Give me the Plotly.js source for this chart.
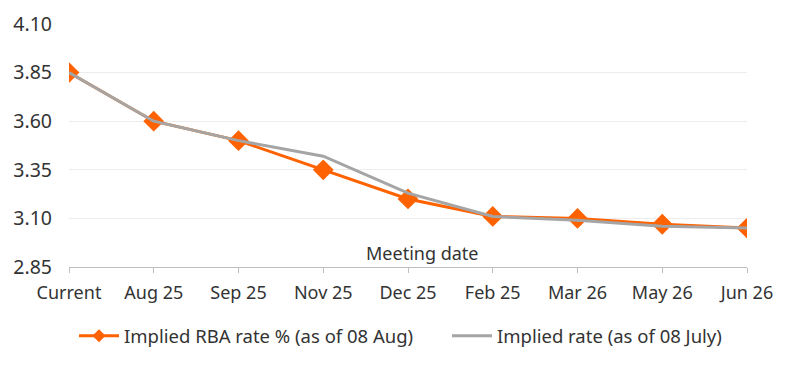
<!DOCTYPE html>
<html>
<head>
<meta charset="utf-8">
<script src="https://cdn.plot.ly/plotly-3.0.1.min.js"></script>
<style>html,body{margin:0;padding:0;background:#fff;}#chart{width:800px;height:369px;}</style>
</head>
<body>
<div id="chart"></div>
<script>
const categories = ["Current", "Aug 25", "Sep 25", "Nov 25", "Dec 25", "Feb 25", "Mar 26", "May 26", "Jun 26"];
const impliedAug = [3.85, 3.60, 3.50, 3.35, 3.20, 3.11, 3.10, 3.07, 3.05];
const impliedJuly = [3.85, 3.60, 3.50, 3.42, 3.23, 3.11, 3.09, 3.06, 3.05];
const yTicks = [2.85, 3.10, 3.35, 3.60, 3.85, 4.10];
const seriesNames = ["Implied RBA rate % (as of 08 Aug)", "Implied rate (as of 08 July)"];

const fontFam = "Noto Sans, Open Sans, sans-serif";
const orange = "#FF6200", grey = "#A5A5A5";
const traces = [
  {
    x: categories, y: impliedAug, name: seriesNames[0], type: "scatter", mode: "lines+markers",
    line: {color: orange, width: 3},
    marker: {symbol: "diamond", size: 16, color: orange}, showlegend: false
  },
  {
    x: categories, y: impliedJuly, name: seriesNames[1], type: "scatter", mode: "lines",
    line: {color: grey, width: 3}, showlegend: false
  },
  // legend-only entries (no data drawn)
  {
    x: [null], y: [null], name: seriesNames[0], type: "scatter", mode: "lines+markers",
    line: {color: orange, width: 3}, marker: {symbol: "diamond", size: 10, color: orange},
    legend: "legend"
  },
  {
    x: [null], y: [null], name: seriesNames[1], type: "scatter", mode: "lines",
    line: {color: grey, width: 3}, legend: "legend2"
  }
];
const legendFont = {size: 18.5, color: "#333"};
const layout = {
  width: 800, height: 369,
  margin: {l: 69, r: 53, t: 24, b: 102},
  paper_bgcolor: "#fff", plot_bgcolor: "#fff",
  font: {family: fontFam, size: 17, color: "#333"},
  showlegend: true,
  legend: {orientation: "h", x: 0.0074, xanchor: "left", y: -0.285, yanchor: "middle",
           font: legendFont, itemwidth: 40},
  legend2: {orientation: "h", x: 0.5575, xanchor: "left", y: -0.285, yanchor: "middle",
           font: legendFont, itemwidth: 40},
  xaxis: {
    type: "category", range: [0, 8], showgrid: false, zeroline: false,
    showline: true, linecolor: "#BFBFBF", linewidth: 1,
    ticks: "outside", ticklen: 5, tickcolor: "#BFBFBF",
    ticklabelstandoff: 4,
    tickfont: {size: 18, color: "#333"}
  },
  yaxis: {
    range: [2.85, 4.10], tickvals: yTicks, tickformat: ".2f",
    showgrid: true, gridcolor: "#EDEDED", gridwidth: 1, zeroline: false,
    showline: false, ticks: "", ticklabelstandoff: 16,
    tickfont: {size: 19.5, color: "#333"}
  },
  annotations: [{
    text: "Meeting date", xref: "paper", yref: "paper", x: 0.52, y: 0.0,
    xanchor: "center", yanchor: "bottom", showarrow: false,
    font: {size: 18, color: "#333"}
  }]
};
Plotly.newPlot("chart", traces, layout, {displayModeBar: false, staticPlot: true});
</script>
</body>
</html>
